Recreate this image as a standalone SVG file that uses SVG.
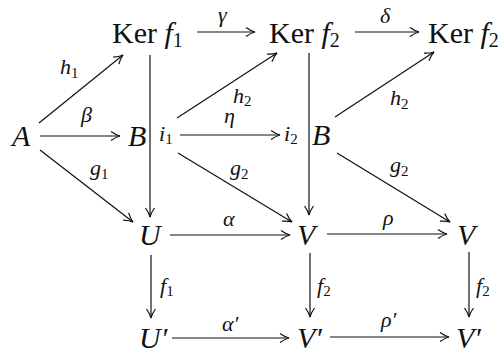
<svg xmlns="http://www.w3.org/2000/svg" width="504" height="354" viewBox="0 0 504 354">
<defs>
<style>
.big{font-family:'Liberation Serif','DejaVu Serif',serif;font-size:30px;fill:#111}
.it{font-style:italic}
.lab{font-family:'Liberation Serif','DejaVu Serif',serif;font-size:22px;font-style:italic;fill:#111}
.sub{font-style:normal}
.c line{stroke:#111;stroke-width:1.2;fill:none}
</style>
<marker id="ah" viewBox="-11 -6 13 12" refX="0" refY="0" markerWidth="13" markerHeight="12" markerUnits="userSpaceOnUse" orient="auto">
<path d="M-9,-4.5 Q-4,-1 0,0 Q-4,1 -9,4.5" fill="none" stroke="#111" stroke-width="1.2"/>
</marker>
</defs>
<rect width="504" height="354" fill="#fff"/>
<g id="kerf1"><text class="big" x="112" y="43">Ker <tspan class="it">f</tspan><tspan font-size="20" dy="4">1</tspan></text></g>
<g id="kerf2a"><text class="big" x="269" y="43">Ker <tspan class="it">f</tspan><tspan font-size="20" dy="4">2</tspan></text></g>
<g id="kerf2b"><text class="big" x="428" y="43">Ker <tspan class="it">f</tspan><tspan font-size="20" dy="4">2</tspan></text></g>
<g id="A"><text class="big it" x="12" y="146">A</text></g>
<g id="B1"><text class="big it" x="128" y="146">B</text></g>
<g id="i1"><text class="lab" x="159" y="141">i<tspan class="sub" font-size="15" dy="3">1</tspan></text></g>
<g id="i2"><text class="lab" x="284" y="141">i<tspan class="sub" font-size="15" dy="3">2</tspan></text></g>
<g id="B2"><text class="big it" x="312" y="145">B</text></g>
<g id="U"><text class="big it" x="139" y="245">U</text></g>
<g id="V1"><text class="big it" x="297" y="245">V</text></g>
<g id="V2"><text class="big it" x="457" y="245">V</text></g>
<g id="Up"><text class="big it" x="139" y="348">U′</text></g>
<g id="Vp1"><text class="big it" x="297" y="348">V′</text></g>
<g id="Vp2"><text class="big it" x="456" y="348">V′</text></g>
<g id="connectors" class="c">
<line x1="197" y1="32" x2="255" y2="32" marker-end="url(#ah)"/>
<line x1="355" y1="32" x2="419" y2="32" marker-end="url(#ah)"/>
<line x1="39" y1="123" x2="123" y2="55" marker-end="url(#ah)"/>
<line x1="40" y1="136" x2="120" y2="136" marker-end="url(#ah)"/>
<line x1="40" y1="150" x2="133" y2="222" marker-end="url(#ah)"/>
<line x1="150" y1="55" x2="150" y2="217" marker-end="url(#ah)"/>
<line x1="309" y1="53" x2="309" y2="215" marker-end="url(#ah)"/>
<line x1="177" y1="118" x2="277" y2="53" marker-end="url(#ah)"/>
<line x1="180" y1="135" x2="280" y2="135" marker-end="url(#ah)"/>
<line x1="178" y1="153" x2="292" y2="222" marker-end="url(#ah)"/>
<line x1="335" y1="117" x2="434" y2="52" marker-end="url(#ah)"/>
<line x1="337" y1="153" x2="450" y2="222" marker-end="url(#ah)"/>
<line x1="170" y1="235" x2="290" y2="235" marker-end="url(#ah)"/>
<line x1="327" y1="234" x2="447" y2="234" marker-end="url(#ah)"/>
<line x1="151" y1="255" x2="151" y2="318" marker-end="url(#ah)"/>
<line x1="310" y1="253" x2="310" y2="317" marker-end="url(#ah)"/>
<line x1="469" y1="252" x2="469" y2="317" marker-end="url(#ah)"/>
<line x1="172" y1="338" x2="289" y2="338" marker-end="url(#ah)"/>
<line x1="330" y1="337" x2="449" y2="337" marker-end="url(#ah)"/>
<text class="lab" x="218" y="22">γ</text>
<text class="lab" x="380" y="23">δ</text>
<text class="lab" x="60" y="74">h<tspan class="sub" font-size="15" dy="4">1</tspan></text>
<text class="lab" x="81" y="122">β</text>
<text class="lab" x="90" y="175">g<tspan class="sub" font-size="15" dy="4">1</tspan></text>
<text class="lab" x="233" y="103">h<tspan class="sub" font-size="15" dy="3">2</tspan></text>
<text class="lab" x="224" y="123">η</text>
<text class="lab" x="230" y="175">g<tspan class="sub" font-size="15" dy="4">2</tspan></text>
<text class="lab" x="390" y="105">h<tspan class="sub" font-size="15" dy="4">2</tspan></text>
<text class="lab" x="390" y="172">g<tspan class="sub" font-size="15" dy="4">2</tspan></text>
<text class="lab" x="223" y="226">α</text>
<text class="lab" x="383" y="225">ρ</text>
<text class="lab" x="222" y="331">α′</text>
<text class="lab" x="381" y="327">ρ′</text>
<text class="lab" x="160" y="293">f<tspan class="sub" font-size="15" dy="3">1</tspan></text>
<text class="lab" x="317" y="293">f<tspan class="sub" font-size="15" dy="3">2</tspan></text>
<text class="lab" x="476" y="293">f<tspan class="sub" font-size="15" dy="3">2</tspan></text>
</g>
</svg>
